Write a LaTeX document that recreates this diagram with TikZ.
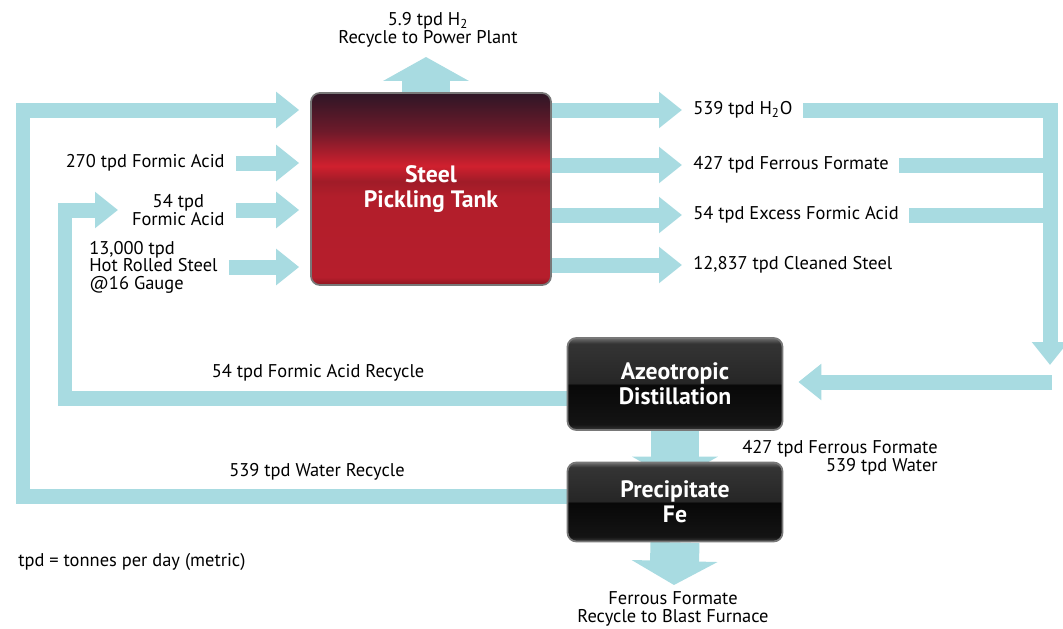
\documentclass[tikz,border=0pt]{standalone}
\usepackage{fontspec}
\setmainfont{PT Sans}
\usetikzlibrary{arrows.meta, backgrounds}

\definecolor{flowblue}{RGB}{168,219,225}
\definecolor{rimgray}{RGB}{120,120,120}
% tank and unit shadings (25bp = bottom, 75bp = top)
\pgfdeclareverticalshading{tankshade}{100bp}{color(0bp)=(rgb,255:red,140;green,22;blue,32); color(25bp)=(rgb,255:red,140;green,22;blue,32); color(27bp)=(rgb,255:red,182;green,30;blue,44); color(48bp)=(rgb,255:red,178;green,30;blue,43); color(52bp)=(rgb,255:red,160;green,28;blue,40); color(56bp)=(rgb,255:red,208;green,32;blue,46); color(65bp)=(rgb,255:red,110;green,26;blue,42); color(75bp)=(rgb,255:red,46;green,22;blue,38); color(100bp)=(rgb,255:red,46;green,22;blue,38)}
\pgfdeclareverticalshading{boxshade}{100bp}{color(0bp)=(rgb,255:red,58;green,58;blue,58); color(25bp)=(rgb,255:red,58;green,58;blue,58); color(28bp)=(rgb,255:red,20;green,20;blue,20); color(49.5bp)=(rgb,255:red,8;green,8;blue,8); color(50.5bp)=(rgb,255:red,38;green,38;blue,38); color(72bp)=(rgb,255:red,52;green,52;blue,52); color(75bp)=(rgb,255:red,110;green,110;blue,110); color(100bp)=(rgb,255:red,110;green,110;blue,110)}

\begin{document}
\begin{tikzpicture}[x=0.02cm, y=-0.02cm,
    flow/.style={draw=flowblue, line width=0.3cm, line join=miter, -{Triangle[length=0.46cm, width=0.7cm]}},
    pipe/.style={draw=flowblue, line width=0.3cm, line join=miter},
    bigflow/.style={draw=flowblue, line width=0.98cm, -{Triangle[length=0.48cm, width=1.7cm]}},
    gap/.style={shorten <=0.22cm, shorten >=0.22cm},
    unit/.style={rectangle, rounded corners=5pt, draw=rimgray, line width=1pt, shade, text=white, align=center, font=\fontsize{13.5}{14}\selectfont\bfseries},
    lbl/.style={inner sep=0pt, font=\fontsize{10.5}{10}\selectfont}]

    \useasboundingbox (0,0) rectangle (1063,629);

    % process units
    \node[unit, shading=tankshade, minimum width=4.8cm, minimum height=3.84cm] (tank) at (431,189) {Steel\\Pickling Tank};
    \node[unit, shading=boxshade, minimum width=4.3cm, minimum height=1.84cm] (azeo) at (675,384) {Azeotropic\\Distillation};
    \node[unit, shading=boxshade, minimum width=4.3cm, minimum height=1.58cm] (precip) at (675,502) {Precipitate\\Fe};

    % stream labels
    \node[lbl, align=center] (h2) at (428,30) {5.9 tpd H\textsubscript{2}\\Recycle to Power Plant};
    \node[lbl, anchor=east] (fa270) at (225,163) {270 tpd Formic Acid};
    \node[lbl, anchor=east, align=center] (fa54) at (225,210) {54 tpd\\Formic Acid};
    \node[lbl, anchor=west, align=left] (hrs) at (89,267) {13,000 tpd\\Hot Rolled Steel\\@16 Gauge};
    \node[lbl, anchor=west] (h2o) at (693,110) {539 tpd H\textsubscript{2}O};
    \node[lbl, anchor=west] (ff) at (693,165) {427 tpd Ferrous Formate};
    \node[lbl, anchor=west] (xfa) at (693,215) {54 tpd Excess Formic Acid};
    \node[lbl, anchor=west] (cs) at (693,265) {12,837 tpd Cleaned Steel};
    \node[lbl] (farec) at (318,373) {54 tpd Formic Acid Recycle};
    \node[lbl] (wrec) at (317,472) {539 tpd Water Recycle};
    \node[lbl, anchor=east, align=right] (mix) at (938,458) {427 tpd Ferrous Formate\\539 tpd Water};
    \node[lbl, align=center] (bf) at (673,609) {Ferrous Formate\\Recycle to Blast Furnace};
    \node[lbl, anchor=west] (note) at (18,562) {tpd = tonnes per day (metric)};

    % loop corners
    \coordinate (ol1) at (23,496);
    \coordinate (ol2) at (23,110);
    \coordinate (il1) at (65,398);
    \coordinate (il2) at (65,210);
    \coordinate (iltip) at (118,210);
    \coordinate (rl1) at (1050,110);
    \coordinate (rl2) at (1050,365);
    \coordinate (rl3) at (1052,382);
    \coordinate (h2tip) at (426,57);
    \coordinate (bftip) at (674,585);

    \begin{scope}[on background layer]
        % feeds into the tank
        \draw[flow, shorten >=0.22cm] (precip.west |- ol1) -- (ol1) -- (ol2) -- (tank.west |- ol2);
        \draw[flow, gap] (fa270.east) -- (fa270.east -| tank.west);
        \draw[flow, gap] (fa54.east) -- (fa54.east -| tank.west);
        \draw[flow, gap] (hrs.east) -- (hrs.east -| tank.west);
        \draw[flow] (azeo.west |- il1) -- (il1) -- (il2) -- (iltip);

        % products out of the tank
        \draw[flow, shorten >=0.22cm] (tank.east |- h2o) -- (h2o.west);
        \draw[flow, shorten >=0.22cm] (tank.east |- ff) -- (ff.west);
        \draw[flow, shorten >=0.22cm] (tank.east |- xfa) -- (xfa.west);
        \draw[flow, shorten >=0.22cm] (tank.east |- cs) -- (cs.west);

        % collector to distillation
        \draw[flow] ([xshift=0.2cm]h2o.east) -- (rl1) -- (rl2);
        \draw[pipe] ([xshift=0.2cm]ff.east) -- (ff.east -| rl1);
        \draw[pipe] ([xshift=0.2cm]xfa.east) -- (xfa.east -| rl1);
        \draw[flow, shorten >=0.3cm] (rl3) -- (rl3 -| azeo.east);

        % vertical streams
        \draw[bigflow] (tank.north -| h2tip) -- (h2tip);
        \draw[bigflow] (azeo.south) -- ([yshift=-0.38cm]precip.north);
        \draw[bigflow] (precip.south) -- (bftip);
    \end{scope}
\end{tikzpicture}
\end{document}
